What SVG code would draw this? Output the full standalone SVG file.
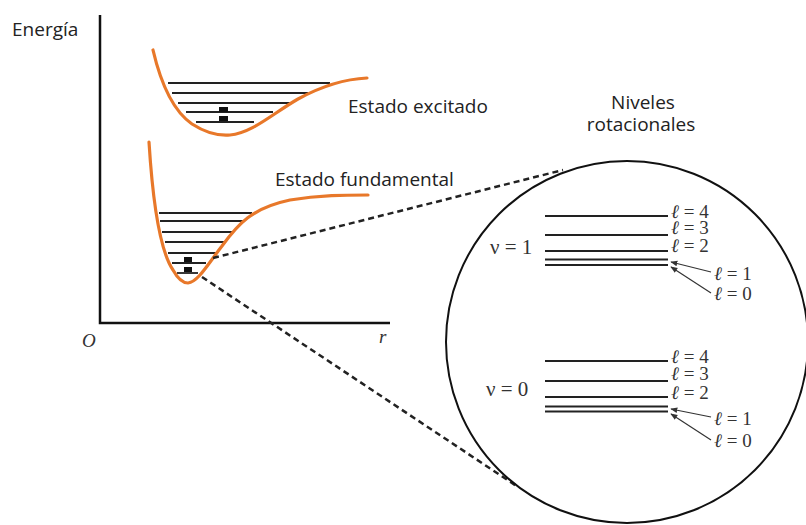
<svg xmlns="http://www.w3.org/2000/svg" width="806" height="525" viewBox="0 0 806 525">
<defs>
<style>
.axis{stroke:#111;stroke-width:2.5;fill:none}
.curve{stroke:#E8782A;stroke-width:3.2;fill:none;stroke-linecap:round}
.lvl{stroke:#222;stroke-width:1.8}
.rot{stroke:#222;stroke-width:2.2}
.dash{stroke:#222;stroke-width:2.5;stroke-dasharray:6 4;fill:none}
.lbl{font-family:"Open Sans","Noto Sans",sans-serif;font-size:19px;fill:#222}
.ser{font-family:"Liberation Serif","DejaVu Serif",serif;font-size:19px;fill:#333}
.nu{font-family:"Liberation Serif","DejaVu Serif",serif;font-size:21px;fill:#333}
.l{font-style:italic}
.ita{font-family:"Liberation Serif","DejaVu Serif",serif;font-style:italic;font-size:19px;fill:#333}
.ptr{stroke:#333;stroke-width:1.2;fill:none}
</style>
<marker id="ah" viewBox="0 0 10 10" refX="9" refY="5" markerWidth="7" markerHeight="7" orient="auto" markerUnits="userSpaceOnUse">
<path d="M0,1 L10,5 L0,9 z" fill="#333"/>
</marker>
</defs>
<rect width="806" height="525" fill="#fff"/>

<g id="axes">
<path class="axis" d="M100,15 V323 H390"/>
<text class="lbl" x="12" y="36">Energía</text>
<text class="ita" x="82" y="347">O</text>
<text class="ita" x="379" y="343">r</text>
</g>

<g id="excited-state">
<line class="lvl" x1="168" y1="83" x2="330" y2="83"/>
<line class="lvl" x1="172" y1="93" x2="308" y2="93"/>
<line class="lvl" x1="178" y1="103" x2="290" y2="103"/>
<line class="lvl" x1="186" y1="112" x2="273" y2="112"/>
<line class="lvl" x1="196" y1="122" x2="254" y2="122"/>
<rect x="219" y="107" width="9" height="5" fill="#111"/>
<rect x="219" y="116" width="9" height="5" fill="#111"/>
<path class="curve" d="M153,50 C160,80 172,110 192,124 C206,133 218,136 230,135 C252,133 272,114 298,99 C322,86 345,79 367,78"/>
<text class="lbl" x="348" y="113">Estado excitado</text>
</g>

<g id="ground-state">
<line class="lvl" x1="159" y1="213" x2="252" y2="213"/>
<line class="lvl" x1="160" y1="221" x2="243" y2="221"/>
<line class="lvl" x1="162" y1="232" x2="233" y2="232"/>
<line class="lvl" x1="165" y1="242" x2="226" y2="242"/>
<line class="lvl" x1="168" y1="253" x2="216" y2="253"/>
<line class="lvl" x1="172" y1="263" x2="206" y2="263"/>
<line class="lvl" x1="177" y1="273" x2="198" y2="273"/>
<rect x="184" y="257" width="8" height="5" fill="#111"/>
<rect x="184" y="267" width="8" height="5" fill="#111"/>
<path class="curve" d="M149,142 C152,190 158,248 173,270 C178,279 183,283 188,283 C198,282 208,264 222,246 C238,224 252,208 290,200 C320,195 345,195 368,195"/>
<text class="lbl" x="275" y="186">Estado fundamental</text>
</g>

<g id="connectors">
<line class="dash" x1="213" y1="258" x2="563" y2="170"/>
<line class="dash" x1="202" y1="277" x2="518" y2="487"/>
</g>

<g id="rotational-levels">
<text class="lbl" x="643" y="109" text-anchor="middle">Niveles</text>
<text class="lbl" x="641" y="131" text-anchor="middle">rotacionales</text>
<circle cx="627" cy="342" r="181" fill="none" stroke="#111" stroke-width="2"/>

<g id="v1">
<line class="rot" x1="545" y1="216" x2="668" y2="216"/>
<line class="rot" x1="545" y1="235" x2="668" y2="235"/>
<line class="rot" x1="545" y1="251" x2="668" y2="251"/>
<line class="rot" x1="545" y1="259.5" x2="668" y2="259.5"/>
<line class="rot" x1="545" y1="265" x2="668" y2="265"/>
<text class="nu" x="490" y="254">ν = 1</text>
<text class="ser" x="671" y="218"><tspan class="l">ℓ</tspan> = 4</text>
<text class="ser" x="671" y="234"><tspan class="l">ℓ</tspan> = 3</text>
<text class="ser" x="671" y="252"><tspan class="l">ℓ</tspan> = 2</text>
<text class="ser" x="714" y="280"><tspan class="l">ℓ</tspan> = 1</text>
<text class="ser" x="714" y="300"><tspan class="l">ℓ</tspan> = 0</text>
<line class="ptr" x1="711" y1="272" x2="671" y2="262" marker-end="url(#ah)"/>
<line class="ptr" x1="711" y1="293" x2="671" y2="267" marker-end="url(#ah)"/>
</g>

<g id="v0">
<line class="rot" x1="545" y1="361" x2="668" y2="361"/>
<line class="rot" x1="545" y1="381" x2="668" y2="381"/>
<line class="rot" x1="545" y1="397" x2="668" y2="397"/>
<line class="rot" x1="545" y1="406.5" x2="668" y2="406.5"/>
<line class="rot" x1="545" y1="411.5" x2="668" y2="411.5"/>
<text class="nu" x="486" y="396">ν = 0</text>
<text class="ser" x="671" y="363"><tspan class="l">ℓ</tspan> = 4</text>
<text class="ser" x="671" y="380"><tspan class="l">ℓ</tspan> = 3</text>
<text class="ser" x="671" y="399"><tspan class="l">ℓ</tspan> = 2</text>
<text class="ser" x="714" y="425"><tspan class="l">ℓ</tspan> = 1</text>
<text class="ser" x="714" y="447"><tspan class="l">ℓ</tspan> = 0</text>
<line class="ptr" x1="711" y1="417" x2="671" y2="409" marker-end="url(#ah)"/>
<line class="ptr" x1="711" y1="440" x2="671" y2="414" marker-end="url(#ah)"/>
</g>
</g>
</svg>
